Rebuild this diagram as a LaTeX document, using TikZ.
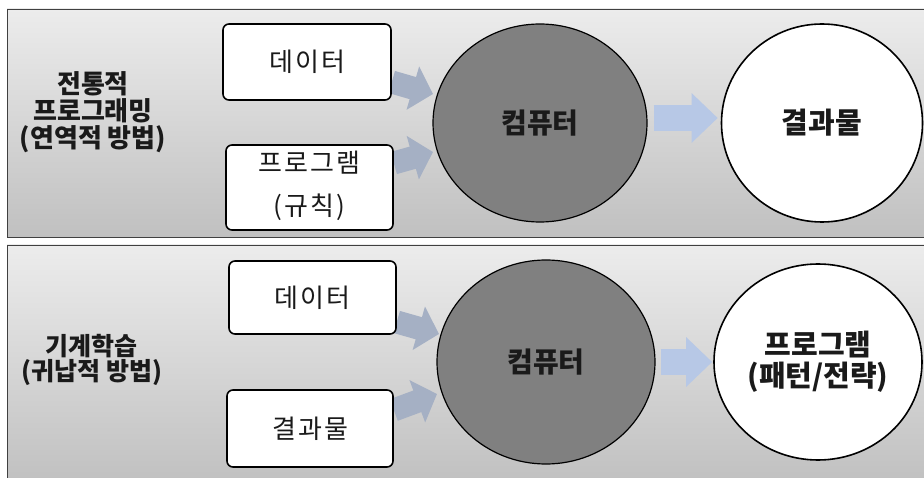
\documentclass[tikz,border=0pt]{standalone}
\usepackage{fontspec}
\setmainfont{Noto Sans CJK KR}
\newfontfamily\krspaced[LetterSpace=8]{Noto Sans CJK KR}
\usetikzlibrary{shapes.geometric,arrows.meta,calc}
\definecolor{panelTop}{HTML}{ECECEC}
\definecolor{panelBot}{HTML}{C0C0C0}
\definecolor{inArrow}{HTML}{A5B0C4}
\definecolor{outArrow}{HTML}{B7C8E6}
\definecolor{compFill}{HTML}{808080}
\definecolor{ink}{HTML}{1A1A1A}
\pgfdeclarelayer{back}
\pgfdeclarelayer{mid}
\pgfsetlayers{back,mid,main}
\begin{document}
\begin{tikzpicture}[x=1pt,y=-1pt,
 panel/.style={draw=black!75, line width=0.9pt, top color=panelTop, bottom color=panelBot},
 inbox/.style={draw=black, line width=1.6pt, fill=white, rounded corners=6pt, inner sep=0pt,
   text=ink, font=\krspaced\fontsize{26}{30}\selectfont, align=center},
 compnode/.style={ellipse, draw=black, line width=1.2pt, fill=compFill, inner sep=0pt,
   text=ink, font=\bfseries\fontsize{28}{30}\selectfont},
 resnode/.style={ellipse, draw=black, line width=1.6pt, fill=white, inner sep=0pt,
   text=ink, font=\bfseries\fontsize{29}{31}\selectfont, align=center},
 sidelabel/.style={align=center, text=ink, inner sep=0pt},
 inarrow/.style={draw=inArrow, line width=23pt, -{Triangle[width=44pt,length=21pt]}},
 outarrow/.style={draw=outArrow, line width=26pt, -{Triangle[width=48pt,length=26pt]}},
]
\useasboundingbox (0,0) rectangle (924,478);
\begin{pgfonlayer}{back}
\fill[white] (0,0) rectangle (924,478);
\draw[panel] (7,9) rectangle (930,237);
\draw[panel] (7,245) rectangle (930,485);
\end{pgfonlayer}

% top panel
\node[sidelabel, font=\bfseries\fontsize{26}{27}\selectfont] (lab1) at (93,112) {전통적\\프로그래밍\\(연역적 방법)};
\node[inbox, minimum width=168pt, minimum height=76pt] (d1) at (307,62) {데이터};
\node[inbox, minimum width=167pt, minimum height=85pt] (p1) at (309.5,187.5)
  {\raisebox{-5pt}{\begin{tabular}{@{}c@{}}프로그램\\[12pt](규칙)\end{tabular}}};
\node[compnode, minimum width=214pt, minimum height=198pt] (c1) at (540,123) {컴퓨터};
\node[resnode, minimum width=201pt, minimum height=198pt] (r1) at (822,123) {결과물};

% bottom panel
\node[sidelabel, font=\bfseries\fontsize{25}{23}\selectfont] (lab2) at (92,360) {기계학습\\(귀납적 방법)};
\node[inbox, minimum width=167pt, minimum height=73pt] (d2) at (312.5,297.5) {데이터};
\node[inbox, minimum width=166pt, minimum height=77pt] (o2) at (310,428.5) {결과물};
\node[compnode, minimum width=218pt, minimum height=204pt] (c2) at (546,362) {컴퓨터};
\node[resnode, minimum width=208pt, minimum height=196pt] (r2) at (818,362) {프로그램\\(패턴/전략)};

\begin{pgfonlayer}{mid}
\draw[inarrow] ($(d1.east)+(0,20)$) -- ($(c1.center)+(-107,-29)$);
\draw[inarrow] ($(p1.east)+(0,-24.5)$) -- ($(c1.center)+(-107,29)$);
\draw[outarrow] ($(c1.east)+(6,-5)$) -- ($(r1.west)+(-3,-5)$);
\draw[inarrow] ($(d2.east)+(0,24.5)$) -- ($(c2.center)+(-107,-28)$);
\draw[inarrow] ($(o2.east)+(0,-18.5)$) -- ($(c2.center)+(-109,32)$);
\draw[outarrow] ($(c2.east)+(5,0)$) -- ($(r2.west)+(-1,0)$);
\end{pgfonlayer}
\end{tikzpicture}
\end{document}
